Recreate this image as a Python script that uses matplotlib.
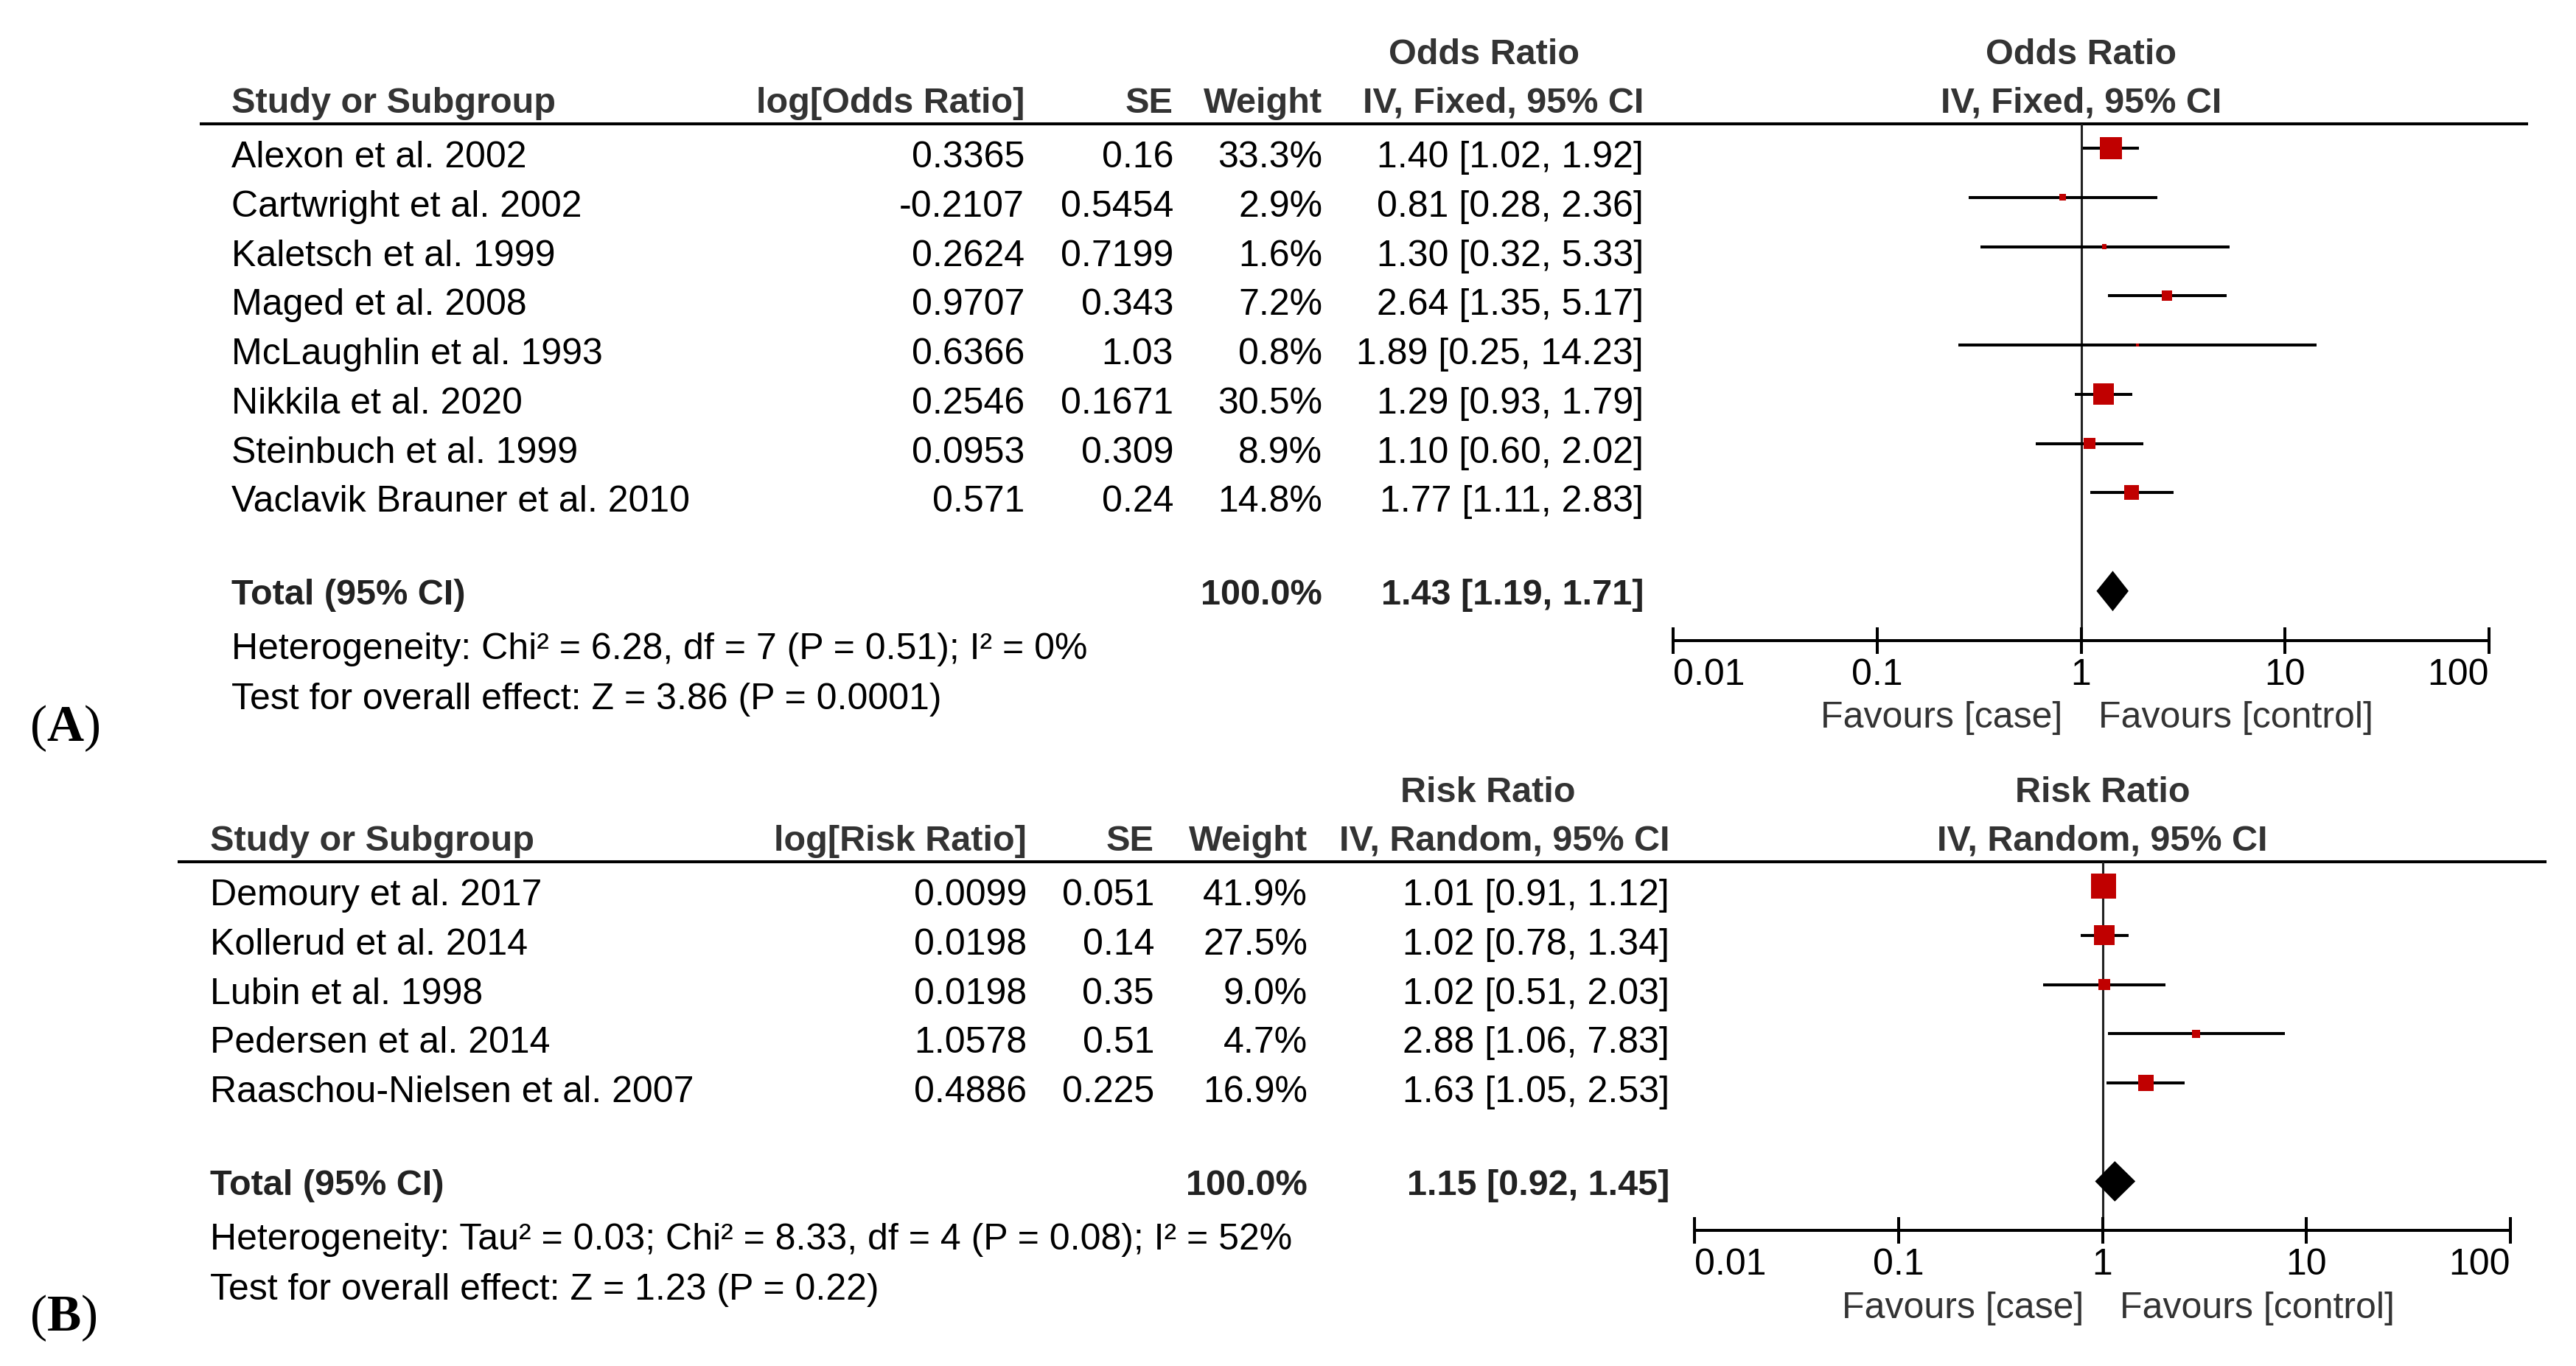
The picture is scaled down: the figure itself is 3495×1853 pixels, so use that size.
import matplotlib.pyplot as plt
from matplotlib.ticker import NullLocator

plt.rcParams['font.family'] = ['Liberation Sans', 'DejaVu Sans']
plt.rcParams['mathtext.fontset'] = 'custom'
plt.rcParams['mathtext.rm'] = 'Liberation Serif'
plt.rcParams['mathtext.bf'] = 'Liberation Serif:bold'

W, H = 3495, 1853
ROW = 66.75   # pixels per table row
FS = 36

# ---- (A) odds ratio, fixed effect ----
a_names = ['Alexon et al. 2002', 'Cartwright et al. 2002', 'Kaletsch et al. 1999',
           'Maged et al. 2008', 'McLaughlin et al. 1993', 'Nikkila et al. 2020',
           'Steinbuch et al. 1999', 'Vaclavik Brauner et al. 2010']
a_log = ['0.3365', '-0.2107', '0.2624', '0.9707', '0.6366', '0.2546', '0.0953', '0.571']
a_se = ['0.16', '0.5454', '0.7199', '0.343', '1.03', '0.1671', '0.309', '0.24']
a_weight = [33.3, 2.9, 1.6, 7.2, 0.8, 30.5, 8.9, 14.8]
a_est = [1.40, 0.81, 1.30, 2.64, 1.89, 1.29, 1.10, 1.77]
a_lo = [1.02, 0.28, 0.32, 1.35, 0.25, 0.93, 0.60, 1.11]
a_hi = [1.92, 2.36, 5.33, 5.17, 14.23, 1.79, 2.02, 2.83]
a_total = (1.43, 1.19, 1.71)
a_het = 'Heterogeneity: Chi² = 6.28, df = 7 (P = 0.51); I² = 0%'
a_test = 'Test for overall effect: Z = 3.86 (P = 0.0001)'

# ---- (B) risk ratio, random effects ----
b_names = ['Demoury et al. 2017', 'Kollerud et al. 2014', 'Lubin et al. 1998',
           'Pedersen et al. 2014', 'Raaschou-Nielsen et al. 2007']
b_log = ['0.0099', '0.0198', '0.0198', '1.0578', '0.4886']
b_se = ['0.051', '0.14', '0.35', '0.51', '0.225']
b_weight = [41.9, 27.5, 9.0, 4.7, 16.9]
b_est = [1.01, 1.02, 1.02, 2.88, 1.63]
b_lo = [0.91, 0.78, 0.51, 1.06, 1.05]
b_hi = [1.12, 1.34, 2.03, 7.83, 2.53]
b_total = (1.15, 0.92, 1.45)
b_het = 'Heterogeneity: Tau² = 0.03; Chi² = 8.33, df = 4 (P = 0.08); I² = 52%'
b_test = 'Test for overall effect: Z = 1.23 (P = 0.22)'

ticks = [0.01, 0.1, 1, 10, 100]
tick_labels = ['0.01', '0.1', '1', '10', '100']

fig = plt.figure(figsize=(W / 100, H / 100), dpi=100)


def ci_text(e, l, h):
    return f'{e:.2f} [{l:.2f}, {h:.2f}]'


def draw_panel(row0, cols, tag, measure, model, names, logs, ses, weights,
               est, lo, hi, total, het, test):
    n = len(names)
    top_r, bot_r = -3, n + 4.5
    top_px = row0 + top_r * ROW
    bot_px = row0 + bot_r * ROW
    fy = 1 - bot_px / H
    fh = (bot_px - top_px) / H

    hdr = dict(fontsize=35, fontweight='bold', color='#333333', va='baseline')
    txt = dict(fontsize=FS, color='black', va='baseline')

    # table part
    ax = fig.add_axes([0, fy, 1, fh])
    ax.patch.set_visible(False)
    ax.set_xlim(0, W)
    ax.set_ylim(bot_r, top_r)
    ax.axis('off')

    ax.text(cols['mid'], -1.71, measure, ha='center', **hdr)
    ax.text(cols['name'], -0.72, 'Study or Subgroup', ha='left', **hdr)
    ax.text(cols['lr'], -0.72, f'log[{measure}]', ha='right', **hdr)
    ax.text(cols['se'], -0.72, 'SE', ha='right', **hdr)
    ax.text(cols['wt'], -0.72, 'Weight', ha='right', **hdr)
    ax.text(cols['ci'], -0.72, f'IV, {model}, 95% CI', ha='right', **hdr)
    ax.hlines(-0.5, cols['line'][0], cols['line'][1], color='black', lw=2.9)

    for i in range(n):
        y = i + 0.39
        ax.text(cols['name'], y, names[i], ha='left', **txt)
        ax.text(cols['lr'], y, logs[i], ha='right', **txt)
        ax.text(cols['se'], y, ses[i], ha='right', **txt)
        ax.text(cols['wt'], y, f'{weights[i]:.1f}%', ha='right', **txt)
        ax.text(cols['ci'], y, ci_text(est[i], lo[i], hi[i]), ha='right', **txt)

    tot = dict(fontsize=35, fontweight='bold', color='#222222', va='baseline')
    ax.text(cols['name'], n + 1.27, 'Total (95% CI)', ha='left', **tot)
    ax.text(cols['wt'], n + 1.27, '100.0%', ha='right', **tot)
    ax.text(cols['ci'], n + 1.27, ci_text(*total), ha='right', **tot)
    ax.text(cols['name'], n + 2.38, het, ha='left', **txt)
    ax.text(cols['name'], n + 3.40, test, ha='left', **txt)
    ax.text(40, n + 4.04, '($\\mathbf{' + tag + '}$)', ha='left', va='baseline',
            fontsize=50, family='Liberation Serif', color='black')

    # forest part
    x0, x1 = cols['axis']
    fx = fig.add_axes([x0 / W, fy, (x1 - x0) / W, fh])
    fx.patch.set_visible(False)
    fx.set_xscale('log')
    fx.set_xlim(ticks[0], ticks[-1])
    fx.set_ylim(bot_r, top_r)
    rows = list(range(n))
    fx.vlines(1, -0.5, n + 2, color='#222222', lw=2.2, zorder=1)
    fx.hlines(rows, lo, hi, color='black', lw=2.9, zorder=2)
    fx.scatter(est, rows, s=[14 * w for w in weights], marker='s',
               color='#C00000', linewidths=0, zorder=3)
    e, l, h = total
    t = n + 1
    fx.fill([l, e, h, e], [t, t - 0.41, t, t + 0.41], color='black', lw=0, zorder=3)

    for side in ['left', 'right', 'top']:
        fx.spines[side].set_visible(False)
    fx.spines['bottom'].set_position(('data', n + 2))
    fx.spines['bottom'].set_linewidth(2.9)
    fx.set_yticks([])
    fx.set_xticks(ticks)
    fx.set_xticklabels(tick_labels)
    fx.xaxis.set_minor_locator(NullLocator())
    fx.tick_params(axis='x', direction='inout', length=26.6, width=2.9, pad=4,
                   labelsize=FS, colors='black')
    labels = fx.get_xticklabels()
    labels[0].set_ha('left')
    labels[-1].set_ha('right')

    fx.text(1, -1.71, measure, ha='center', **hdr)
    fx.text(1, -0.72, f'IV, {model}, 95% CI', ha='center', **hdr)
    fx.annotate('Favours [case]', xy=(1, n + 3.78), xytext=(-18, 0),
                textcoords='offset points', ha='right', va='baseline',
                fontsize=FS, color='#333333')
    fx.annotate('Favours [control]', xy=(1, n + 3.78), xytext=(17, 0),
                textcoords='offset points', ha='left', va='baseline',
                fontsize=FS, color='#333333')


cols_a = dict(name=314, lr=1390, se=1592, wt=1794, ci=2230, mid=2013,
              line=(271, 3430), axis=(2270, 3377))
cols_b = dict(name=285, lr=1393, se=1566, wt=1774, ci=2265, mid=2019,
              line=(241, 3455), axis=(2299, 3406))

draw_panel(201, cols_a, 'A', 'Odds Ratio', 'Fixed', a_names, a_log, a_se, a_weight,
           a_est, a_lo, a_hi, a_total, a_het, a_test)
draw_panel(1202, cols_b, 'B', 'Risk Ratio', 'Random', b_names, b_log, b_se, b_weight,
           b_est, b_lo, b_hi, b_total, b_het, b_test)

fig.savefig('out.png', dpi=100, facecolor='white')
